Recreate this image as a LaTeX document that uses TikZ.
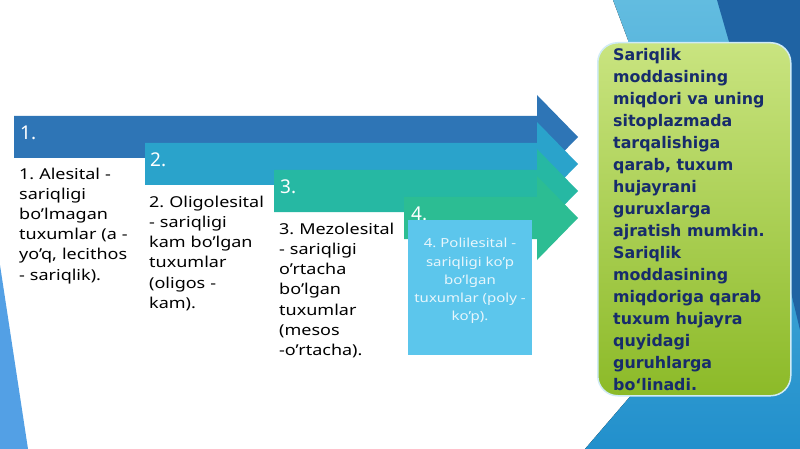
\documentclass[tikz,border=0pt]{standalone}
\usepackage{fontspec}
\setmainfont{Noto Sans}[FakeStretch=1.2]
\newfontfamily\labelfont{Noto Sans}
\newfontfamily\summaryfont{DejaVu Sans Condensed}[FakeStretch=1.1]
\definecolor{arrowA}{HTML}{2E75B6}
\definecolor{arrowB}{HTML}{2AA3CB}
\definecolor{arrowC}{HTML}{26B8A3}
\definecolor{arrowD}{HTML}{2CBD93}
\definecolor{polibox}{HTML}{5CC6EC}
\definecolor{bandlight}{HTML}{62BCE0}
\definecolor{banddark}{HTML}{1F63A3}
\definecolor{bandlow}{HTML}{2290CC}
\definecolor{greentop}{HTML}{C9E480}
\definecolor{greenlow}{HTML}{8CBA28}
\definecolor{navy}{HTML}{172C6B}
\frenchspacing
\begin{document}
\begin{tikzpicture}[x=1pt,y=-1pt,
	steplabel/.style={anchor=west, inner sep=0pt, text=white, font=\labelfont\fontsize{19}{22}\selectfont},
	steptext/.style={anchor=north west, inner sep=0pt, align=left, text width=128pt, font=\fontsize{15}{20.1}\selectfont}]
	\useasboundingbox (0,0) rectangle (800,449);
	\fill[white] (0,0) rectangle (800,449);
	% slide background
	\fill[top color=bandlight, bottom color=bandlow] (613,0) -- (800,0) -- (800,449) -- (585,449) -- (640,385) -- (628,40) -- cycle;
	\fill[banddark] (717,0) -- (800,0) -- (800,330) -- (740,80) -- cycle;
	\fill[bandlight!85!blue] (0,265) -- (28,449) -- (0,449) -- cycle;
	% arrows
	\fill[arrowA] (14,116) -- (537,116) -- (537,95) -- (578,137) -- (537,179) -- (537,158) -- (14,158) -- cycle;
	\fill[arrowB] (145,143) -- (537,143) -- (537,122) -- (578,164) -- (537,206) -- (537,185) -- (145,185) -- cycle;
	\fill[arrowC] (274,170) -- (537,170) -- (537,149) -- (578,191) -- (537,233) -- (537,212) -- (274,212) -- cycle;
	\fill[arrowD] (404,197) -- (537,197) -- (537,176) -- (578,218) -- (537,260) -- (537,239) -- (404,239) -- cycle;
	\node (L1) at ( 20, 133)	[steplabel]	{1.};
	\node (L2) at (150, 160)	[steplabel]	{2.};
	\node (L3) at (280, 187)	[steplabel]	{3.};
	\node (L4) at (411, 214)	[steplabel]	{4.};
	% texts under the arrows
	\node (alesital) at ( 19, 168)	[steptext]	{1. Alesital -\\ sariqligi\\ bo’lmagan\\ tuxumlar (a -\\ yo’q, lecithos\\ - sariqlik).};
	\node (oligo) at (149, 196)	[steptext]	{2. Oligolesital\\ - sariqligi\\ kam bo’lgan\\ tuxumlar\\ (oligos -\\ kam).};
	\node (mezo) at (279, 223)	[steptext]	{3. Mezolesital\\ - sariqligi\\ o’rtacha\\ bo’lgan\\ tuxumlar\\ (mesos\\ -o’rtacha).};
	\node (polibg) at (408, 220)	[anchor=north west, inner sep=0pt, fill=polibox, minimum width=124pt, minimum height=135pt]	{};
	\node (poli) at (470, 238)	[anchor=north, inner sep=0pt, align=center, text=white!85!polibox, font=\fontsize{12.5}{18.3}\selectfont]	{4. Polilesital -\\ sariqligi ko’p\\ bo’lgan\\ tuxumlar (poly -\\ ko’p).};
	% summary box
	\node (summary) at (597, 42)	[anchor=north west, minimum width=193pt, minimum height=353pt, rounded corners=20pt, top color=greentop, bottom color=greenlow, draw=white!70!bandlight, line width=1.5pt]	{};
	\node (summarytext) at (613, 48)	[anchor=north west, inner sep=0pt, align=left, text=navy, font=\summaryfont\bfseries\fontsize{16}{22}\selectfont]	{Sariqlik\\ moddasining\\ miqdori va uning\\ sitoplazmada\\ tarqalishiga\\ qarab, tuxum\\ hujayrani\\ guruxlarga\\ ajratish mumkin.\\ Sariqlik\\ moddasining\\ miqdoriga qarab\\ tuxum hujayra\\ quyidagi\\ guruhlarga\\ boʻlinadi.};
\end{tikzpicture}
\end{document}
